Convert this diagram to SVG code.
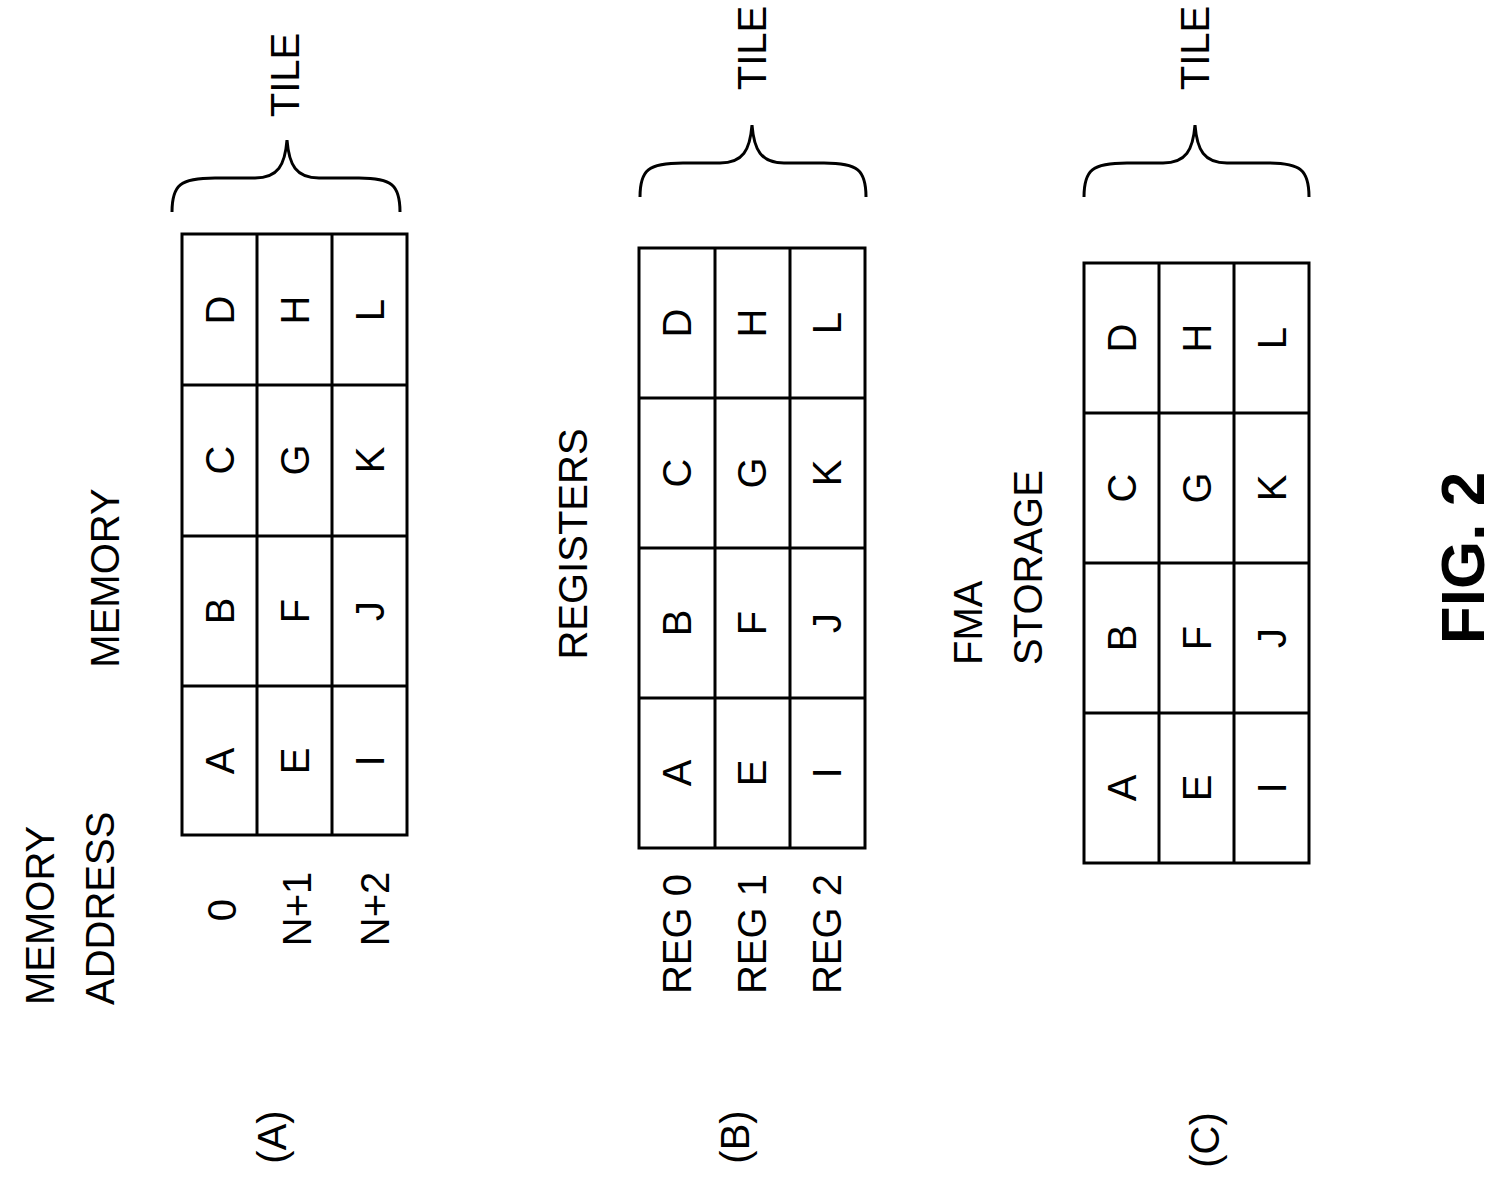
<svg xmlns="http://www.w3.org/2000/svg" width="1504" height="1203" viewBox="0 0 1504 1203">
<style>
text{font-family:"Liberation Sans",Arial,sans-serif;font-size:40px;fill:#000;dominant-baseline:central}
.m{text-anchor:middle}
.s{text-anchor:start}
.g{fill:none;stroke:#000;stroke-width:3}
</style>
<rect width="1504" height="1203" fill="#fff"/>
<g id="gridA">
<rect class="g" x="182" y="234" width="225" height="601"/>
<path class="g" d="M257 234V835M332 234V835M182 385H407M182 536H407M182 686H407"/>
<g class="m">
<text transform="translate(220,310) rotate(-90)">D</text><text transform="translate(220,460) rotate(-90)">C</text><text transform="translate(220,611) rotate(-90)">B</text><text transform="translate(220,761) rotate(-90)">A</text>
<text transform="translate(295,310) rotate(-90)">H</text><text transform="translate(295,460) rotate(-90)">G</text><text transform="translate(295,611) rotate(-90)">F</text><text transform="translate(295,761) rotate(-90)">E</text>
<text transform="translate(370,310) rotate(-90)">L</text><text transform="translate(370,460) rotate(-90)">K</text><text transform="translate(370,611) rotate(-90)">J</text><text transform="translate(370,761) rotate(-90)">I</text>
</g>
</g>
<g id="gridB">
<rect class="g" x="639" y="248" width="226" height="600"/>
<path class="g" d="M715 248V848M790 248V848M639 398H865M639 548H865M639 698H865"/>
<g class="m">
<text transform="translate(677,323) rotate(-90)">D</text><text transform="translate(677,473) rotate(-90)">C</text><text transform="translate(677,623) rotate(-90)">B</text><text transform="translate(677,773) rotate(-90)">A</text>
<text transform="translate(752,323) rotate(-90)">H</text><text transform="translate(752,473) rotate(-90)">G</text><text transform="translate(752,623) rotate(-90)">F</text><text transform="translate(752,773) rotate(-90)">E</text>
<text transform="translate(827,323) rotate(-90)">L</text><text transform="translate(827,473) rotate(-90)">K</text><text transform="translate(827,623) rotate(-90)">J</text><text transform="translate(827,773) rotate(-90)">I</text>
</g>
</g>
<g id="gridC">
<rect class="g" x="1084" y="263" width="225" height="600"/>
<path class="g" d="M1159 263V863M1234 263V863M1084 413H1309M1084 563H1309M1084 713H1309"/>
<g class="m">
<text transform="translate(1122,338) rotate(-90)">D</text><text transform="translate(1122,488) rotate(-90)">C</text><text transform="translate(1122,638) rotate(-90)">B</text><text transform="translate(1122,788) rotate(-90)">A</text>
<text transform="translate(1197,338) rotate(-90)">H</text><text transform="translate(1197,488) rotate(-90)">G</text><text transform="translate(1197,638) rotate(-90)">F</text><text transform="translate(1197,788) rotate(-90)">E</text>
<text transform="translate(1272,338) rotate(-90)">L</text><text transform="translate(1272,488) rotate(-90)">K</text><text transform="translate(1272,638) rotate(-90)">J</text><text transform="translate(1272,788) rotate(-90)">I</text>
</g>
</g>
<g id="braces">
<path class="g" d="M172 212C172 185 180 178 215 178H255C278 178 285 165 287 140C289 165 296 178 319 178H359C392 178 400 185 400 212"/>
<path class="g" d="M640 197C640 170 648 163 683 163H720C743 163 750 150 752 125C754 150 761 163 784 163H824C858 163 866 170 866 197"/>
<path class="g" d="M1084 197C1084 170 1092 163 1127 163H1163C1186 163 1193 150 1195 125C1197 150 1204 163 1227 163H1267C1301 163 1309 170 1309 197"/>
</g>
<g id="labels">
<text class="m" transform="translate(285,75) rotate(-90)">TILE</text>
<text class="m" transform="translate(752,48) rotate(-90)">TILE</text>
<text class="m" transform="translate(1195,48) rotate(-90)">TILE</text>
<text class="m" transform="translate(105,578) rotate(-90)">MEMORY</text>
<text class="m" transform="translate(573,544) rotate(-90)">REGISTERS</text>
<text class="s" transform="translate(968,665) rotate(-90)">FMA</text>
<text class="s" transform="translate(1028,665) rotate(-90)">STORAGE</text>
<text class="s" transform="translate(40,1005) rotate(-90)">MEMORY</text>
<text class="s" transform="translate(100,1005) rotate(-90)">ADDRESS</text>
<text class="m" transform="translate(222,910) rotate(-90)">0</text>
<text class="m" transform="translate(297,909) rotate(-90)">N+1</text>
<text class="m" transform="translate(375,909) rotate(-90)">N+2</text>
<text class="m" transform="translate(677,934) rotate(-90)">REG 0</text>
<text class="m" transform="translate(752,934) rotate(-90)">REG 1</text>
<text class="m" transform="translate(827,934) rotate(-90)">REG 2</text>
<text class="m" transform="translate(272,1137) rotate(-90)">(A)</text>
<text class="m" transform="translate(735,1137) rotate(-90)">(B)</text>
<text class="m" transform="translate(1205,1140) rotate(-90)">(C)</text>
<text class="m" transform="translate(1462,558) rotate(-90)" style="font-size:62px;font-weight:bold">FIG. 2</text>
</g>
</svg>
